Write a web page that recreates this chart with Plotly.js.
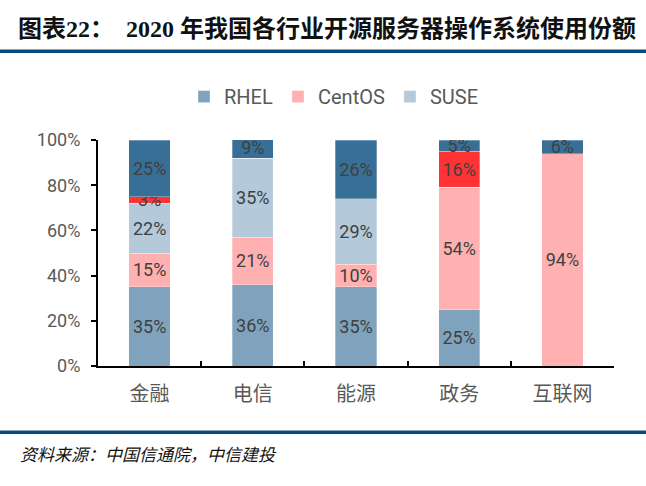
<!DOCTYPE html>
<html>
<head>
<meta charset="utf-8">
<script src="https://cdn.plot.ly/plotly-3.0.1.min.js"></script>
<style>html,body{margin:0;padding:0;background:#fff;}#chart{width:646px;height:486px;}</style>
</head>
<body>
<div id="chart"></div>
<script>
const categories = ['金融', '电信', '能源', '政务', '互联网'];
const rhel   = [35, 36, 35, 25, 0];
const centos = [15, 21, 10, 54, 94];
const suse   = [22, 35, 29, 0, 0];
const other1 = [3, 0, 0, 16, 0];   // red segment (unlabelled in legend)
const other2 = [25, 9, 26, 5, 6];  // dark blue top segment (unlabelled in legend)
const yTicks = [0, 20, 40, 60, 80, 100];

const seriesDefs = [
  {name: 'RHEL', y: rhel, color: '#7fa3bd', legend: true},
  {name: 'CentOS', y: centos, color: '#ffb1b1', legend: true},
  {name: 'SUSE', y: suse, color: '#b4c9d9', legend: true},
  {name: '其他1', y: other1, color: '#ff3333', legend: false},
  {name: '其他2', y: other2, color: '#376f96', legend: false}
];

const traces = seriesDefs.map(s => ({
  type: 'bar',
  name: s.name,
  x: categories,
  y: s.y,
  showlegend: s.legend,
  marker: {color: s.color, line: {color: 'rgba(255,255,255,0.5)', width: 0.6}},
  text: s.y.map(v => v ? v + '%' : ''),
  textposition: 'inside',
  insidetextanchor: 'middle',
  textangle: 0,
  constraintext: 'none',
  textfont: {family: 'Roboto', size: 18, color: '#404040'},
  hoverinfo: 'none'
}));

const L = 98, R = 614, T = 139.5, B = 366;
const pw = R - L, ph = B - T;
const px = x => (x - L) / pw;
const py = y => (B - y) / ph;

const layout = {
  width: 646, height: 486,
  margin: {l: L, r: 646 - R, t: T, b: 486 - B, pad: 0},
  paper_bgcolor: '#fff', plot_bgcolor: '#fff',
  barmode: 'stack',
  bargap: 0.6,
  uniformtext: {mode: 'show', minsize: 18},
  font: {family: 'Roboto, "Noto Sans CJK SC"', color: '#595959'},
  title: {
    text: '<b>图表22：  2020 年我国各行业开源服务器操作系统使用份额</b>',
    font: {family: '"Liberation Serif", "Noto Sans CJK SC"', size: 24, color: '#111'},
    xref: 'container', yref: 'container',
    x: 18 / 646, xanchor: 'left',
    y: 1 - 29 / 486, yanchor: 'middle'
  },
  xaxis: {
    type: 'category',
    showline: true, linecolor: '#000', linewidth: 2,
    ticks: 'inside', tickson: 'boundaries', ticklen: 5, tickwidth: 2, tickcolor: '#000',
    tickfont: {family: '"Noto Sans CJK SC"', size: 20, color: '#595959'},
    ticklabelstandoff: 9,
    showgrid: false, zeroline: false, fixedrange: true
  },
  yaxis: {
    range: [0, 100],
    tickvals: yTicks,
    ticktext: yTicks.map(v => v + '%'),
    showline: true, linecolor: '#000', linewidth: 2,
    ticks: 'outside', ticklen: 5, tickwidth: 2, tickcolor: '#000',
    tickfont: {family: 'Roboto', size: 18, color: '#595959'},
    ticklabelstandoff: 7,
    showgrid: false, zeroline: false, fixedrange: true
  },
  legend: {
    orientation: 'h',
    x: px(184), xanchor: 'left',
    y: py(96), yanchor: 'middle',
    font: {family: 'Roboto', size: 20, color: '#595959'},
    traceorder: 'normal'
  },
  shapes: [
    {type: 'line', xref: 'paper', yref: 'paper', x0: px(0), x1: px(646), y0: py(50.5), y1: py(50.5), line: {color: '#0b4a7c', width: 3.5}},
    {type: 'line', xref: 'paper', yref: 'paper', x0: px(0), x1: px(646), y0: py(432.5), y1: py(432.5), line: {color: '#0b4a7c', width: 3.5}}
  ],
  annotations: [
    {
      text: '<i>资料来源：中国信通院，中信建投</i>',
      xref: 'paper', yref: 'paper',
      x: px(18), xanchor: 'left', y: py(454), yanchor: 'middle',
      showarrow: false,
      font: {family: '"Noto Sans CJK SC"', size: 17, color: '#111'}
    }
  ]
};

Plotly.newPlot('chart', traces, layout, {displayModeBar: false, staticPlot: true});
</script>
</body>
</html>
